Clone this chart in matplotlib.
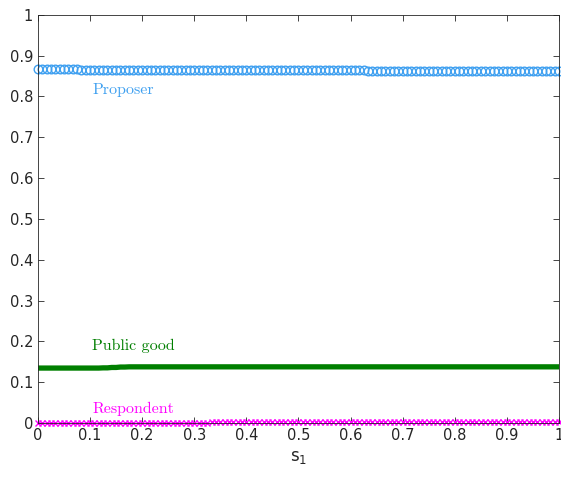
import numpy as np
import matplotlib.pyplot as plt

# s_1 grid (0 to 1, 121 samples)
s1 = np.arange(121) / 120

# values, written as runs of constant level
proposer = ([0.8665] * 10 + [0.8660] * 12 + [0.8655] * 12 + [0.8650] * 14 +
            [0.8645] * 14 + [0.8640] * 14 + [0.8635] * 15 + [0.8630] * 15 +
            [0.8625] * 15)
public_good = ([0.1345] * 15 + [0.1350] * 2 + [0.1360] * 2 + [0.1370] * 2 +
               [0.1375] * 100)
respondent = ([0.0005] * 20 + [0.0010] * 20 + [0.0015] * 20 + [0.0020] * 20 +
              [0.0025] * 20 + [0.0030] * 21)

labels = ["Proposer", "Public good", "Respondent"]
label_pos = [(0.104, 0.816), (0.104, 0.189), (0.104, 0.034)]

c_prop = '#3fa0f0'
c_pub = '#007f00'
c_resp = '#ff00ff'

fig = plt.figure(figsize=(5.61, 4.79), dpi=100)
ax = fig.add_axes([0.0677, 0.117, 0.9287, 0.852])

ax.plot(s1, proposer, 'o', color=c_prop, mfc='none', ms=6.2, mew=1.0, clip_on=False)
ax.plot(s1, public_good, '-', color=c_pub, lw=3.8)
ax.plot(s1, respondent, 'x', color=c_resp, ms=4.5, mew=1.0, clip_on=False)

for lab, (tx, ty), c in zip(labels, label_pos, [c_prop, c_pub, c_resp]):
    ax.text(tx, ty, lab, color=c, fontsize=11.5, family='cmr10', va='center', ha='left')

ax.set_xlim(0, 1)
ax.set_ylim(0, 1)
ax.set_xticks(np.arange(0, 1.01, 0.1))
ax.set_yticks(np.arange(0, 1.01, 0.1))
ax.set_xticklabels(['0', '0.1', '0.2', '0.3', '0.4', '0.5', '0.6', '0.7', '0.8', '0.9', '1'])
ax.set_yticklabels(['0', '0.1', '0.2', '0.3', '0.4', '0.5', '0.6', '0.7', '0.8', '0.9', '1'])
ax.tick_params(direction='in', top=True, right=True, length=4, labelsize=10.5,
               colors='#262626', width=0.6)
for sp in ax.spines.values():
    sp.set_color('#262626')
    sp.set_linewidth(0.6)
ax.set_xlabel('s$_1$', fontsize=12, color='#262626')

fig.savefig('out.png', dpi=100)
